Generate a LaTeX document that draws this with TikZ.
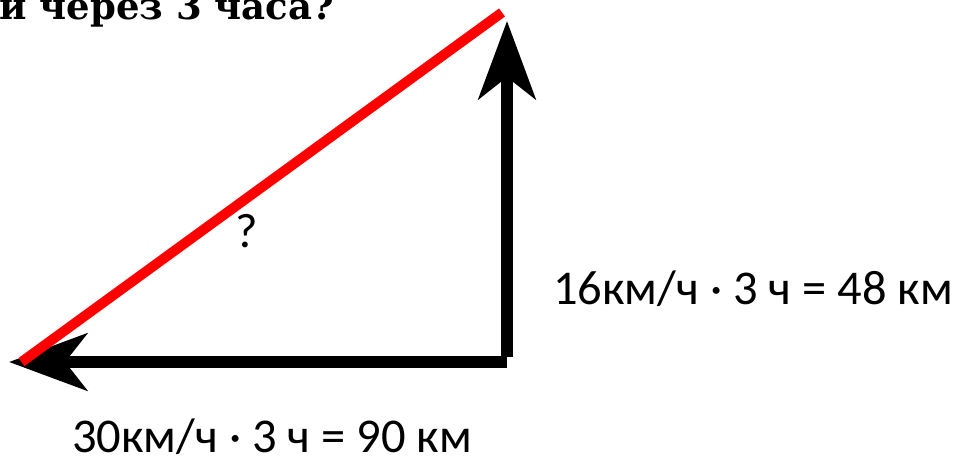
\documentclass[tikz,border=0pt]{standalone}
\usepackage{fontspec}
\setmainfont{Carlito}
\newfontfamily\headfont{DejaVu Serif}
\usetikzlibrary{arrows.meta}
\tikzset{
  vec/.style={line width=12pt, black, -{Stealth[length=78pt, width=57pt, inset=22pt]}},
  hyp/.style={line width=10pt, red},
  lbl/.style={inner sep=0pt, anchor=base west, font=\fontsize{48.5}{56}\selectfont},
  head/.style={inner sep=0pt, anchor=base west, font=\headfont\bfseries\fontsize{37}{44}\selectfont}
}
\begin{document}
\begin{tikzpicture}[x=1pt,y=-1pt]
\useasboundingbox (0,0) rectangle (954,461);
\clip (0,0) rectangle (954,461);
\node[head] (title) at (-1,19) {и через 3 часа?};
\coordinate (O) at (507,362);
\coordinate (Ov) at (507,356.5);
\coordinate (A) at (507,21);
\coordinate (B) at (9,362);
\coordinate (R1) at (21.5,362);
\coordinate (R2) at (502,12.5);
\draw[vec] (Ov) -- (A);
\draw[vec] (O) -- (B);
\draw[hyp] (R1) -- (R2);
\node[lbl] (q) at (235,247) {?};
\node[lbl] (vy) at (553,304) {16км/ч · 3 ч = 48 км};
\node[lbl] (vx) at (72,452) {30км/ч · 3 ч = 90 км};
\end{tikzpicture}
\end{document}
